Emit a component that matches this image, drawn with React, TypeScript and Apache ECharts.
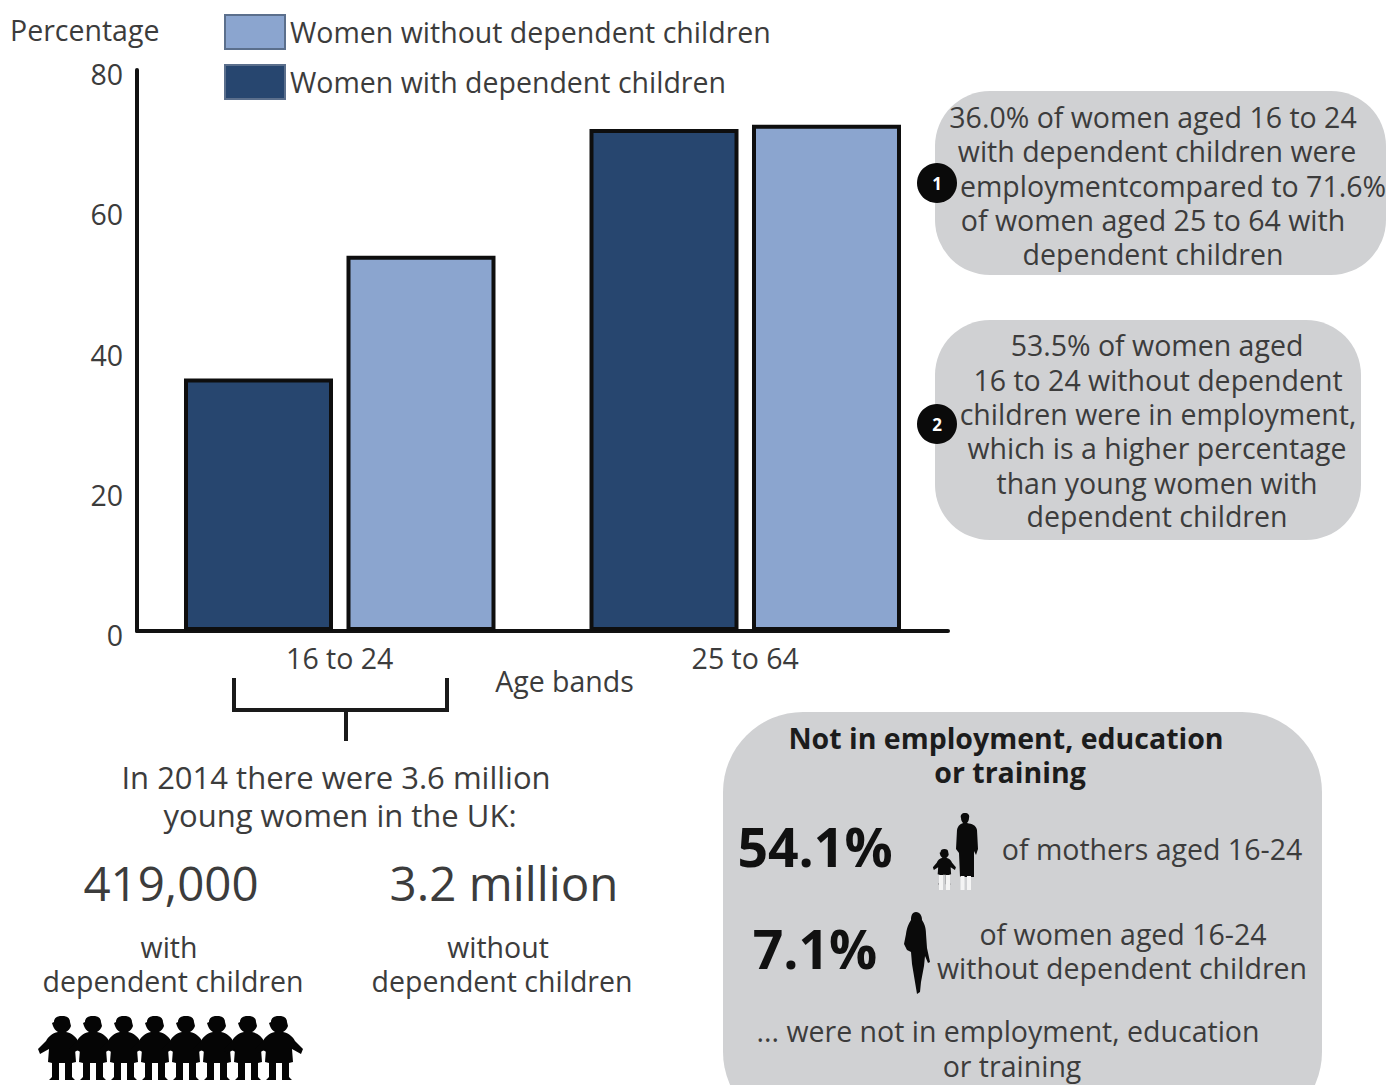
import React, { useEffect, useRef } from "react";
import * as echarts from "echarts";

const ageBands = ["16 to 24", "25 to 64"];
const withChildren = [36.0, 71.6];
const withoutChildren = [53.5, 72.2];
const yTicks = { min: 0, max: 80, interval: 20 };
const seriesNames = ["Women with dependent children", "Women without dependent children"];
const callout1 = [
  "36.0% of women aged 16 to 24",
  "with dependent children were",
  "employmentcompared to 71.6%",
  "of women aged 25 to 64 with",
  "dependent children",
];
const callout2 = [
  "53.5% of women aged",
  "16 to 24 without dependent",
  "children were in employment,",
  "which is a higher percentage",
  "than young women with",
  "dependent children",
];
const youngWomen = ["In 2014 there were 3.6 million", "young women in the UK:"];
const counts = ["419,000", "3.2 million"];
const countLabels = [["with", "dependent children"], ["without", "dependent children"]];
const neetTitle = ["Not in employment, education", "or training"];
const neetValues = ["54.1%", "7.1%"];
const neetMothers = "of mothers aged 16-24";
const neetWomen = ["of women aged 16-24", "without dependent children"];
const neetFooter = ["... were not in employment, education", "or training"];
const childIconCount = 8;

const FONT = '"Open Sans", sans-serif';
const INK = "#3c3c3c";
const DARK = "#27466f";
const LIGHT = "#8ba5cf";
const BUBBLE = "#d0d1d3";
const BODY = 28.5;

const childPath =
  "M30 0 C35 0 38 2 38 6 L39 10 C38 13 36 15 34 16 C40 17 44 21 46 25 L54 33 L52 38 L43 33 L44 46 L40 47 L40 61 L43 64 L33 64 L33 47 L27 47 L27 64 L17 64 L20 61 L20 47 L16 46 L17 33 L8 38 L6 33 L14 25 C16 21 20 17 26 16 C24 15 22 13 21 10 L20 7 L22 6 C22 2 25 0 30 0 Z";
const motherPath =
  "M12 0 C15 0 17 2 16 5 C16 7 15 9 14 10 C19 11 23 12 24 17 L25 36 L23 42 L21 38 L21 64 L7 64 L6 40 L3 36 L4 17 C5 12 8 11 10 10 C9 9 8 7 8 5 C7 2 9 0 12 0 Z";
const womanPath =
  "M12 0 C16 0 18 4 18 8 C20 11 22 15 22 22 L23 36 L26 50 L24 51 L21 44 L20 54 L17 70 L16 80 L13 82 L11 70 L8 52 L7 40 L3 38 L0 32 L2 22 C3 15 5 11 7 8 C7 4 8 0 12 0 Z";

echarts.graphic.registerShape("childIcon", echarts.graphic.extendPath(childPath as any, {}) as any);
echarts.graphic.registerShape("motherIcon", echarts.graphic.extendPath(motherPath as any, {}) as any);
echarts.graphic.registerShape("womanIcon", echarts.graphic.extendPath(womanPath as any, {}) as any);

const txt = (text: string, x: number, y: number, fontSize = BODY, fontWeight: any = 400, fill = INK, z = 5) => ({
  type: "text",
  x,
  y,
  z,
  style: { text, fontSize, fontWeight, fontFamily: FONT, fill, align: "center", verticalAlign: "middle" },
});
const bubble = (x: number, y: number, width: number, height: number, r: number) => ({
  type: "rect",
  z: 1,
  shape: { x, y, width, height, r },
  style: { fill: BUBBLE },
});

function buildGraphics() {
  const els: any[] = [];
  els.push(bubble(935, 91, 451, 184, 55));
  els.push(bubble(935, 320, 426, 220, 55));
  els.push(bubble(723, 712, 599, 420, 80));

  const c1x = [1153, 1157, 1173, 1153, 1153];
  const c1y = [117, 151, 186, 220, 254];
  callout1.forEach((l, i) => els.push(txt(l, c1x[i], c1y[i])));
  const c2x = [1157, 1158, 1158, 1157, 1157, 1157];
  const c2y = [345, 380, 414, 448, 483, 516];
  callout2.forEach((l, i) => els.push(txt(l, c2x[i], c2y[i])));

  [[937, 183, "1"], [937, 424, "2"]].forEach(([x, y, t]: any) => {
    els.push({ type: "circle", z: 6, shape: { cx: x, cy: y, r: 20 }, style: { fill: "#0a0a0a" } });
    els.push(txt(t, x, y, 17, 700, "#ffffff", 7));
  });

  els.push({
    type: "polyline",
    z: 3,
    shape: { points: [[234, 678], [234, 710], [447, 710], [447, 678]] },
    style: { fill: "none", stroke: "#1a1a1a", lineWidth: 4 },
  });
  els.push({
    type: "line",
    z: 3,
    shape: { x1: 346, y1: 708, x2: 346, y2: 741 },
    style: { stroke: "#1a1a1a", lineWidth: 4 },
  });

  els.push(txt(youngWomen[0], 336, 777, 31));
  els.push(txt(youngWomen[1], 340, 815, 31));
  els.push(txt(counts[0], 171, 882, 47.5));
  els.push(txt(counts[1], 504, 882, 47.5));
  els.push(txt(countLabels[0][0], 169, 947));
  els.push(txt(countLabels[0][1], 173, 981));
  els.push(txt(countLabels[1][0], 498, 947));
  els.push(txt(countLabels[1][1], 502, 981));

  for (let i = 0; i < childIconCount; i++) {
    els.push({
      type: "childIcon",
      z: 4,
      x: 32 + i * 31,
      y: 1016,
      style: { fill: "#050505" },
    });
  }

  els.push(txt(neetTitle[0], 1006, 738, 28.5, 700, "#1c1c1c"));
  els.push(txt(neetTitle[1], 1010, 772, 28.5, 700, "#1c1c1c"));
  els.push(txt(neetValues[0], 815, 846, 53.5, 700, "#111111"));
  els.push(txt(neetValues[1], 815, 948, 53.5, 700, "#111111"));
  els.push(txt(neetMothers, 1152, 849));
  els.push(txt(neetWomen[0], 1123, 934));
  els.push(txt(neetWomen[1], 1122, 968));
  els.push(txt(neetFooter[0], 1008, 1031));
  els.push(txt(neetFooter[1], 1012, 1066));

  // Mother and child icon
  els.push({ type: "motherIcon", z: 4, x: 953, y: 813, style: { fill: "#0a0a0a" } });
  els.push({ type: "childIcon", z: 4, x: 930, y: 849, scaleX: 0.48, scaleY: 0.55, style: { fill: "#0a0a0a" } });
  [[962.5, 876, 962.5, 890], [969, 876, 969, 890], [941, 875, 941, 890], [948, 875, 948, 890]].forEach(([x1, y1, x2, y2]) =>
    els.push({ type: "line", z: 5, shape: { x1, y1, x2, y2 }, style: { stroke: "#f4f4f4", lineWidth: 4 } })
  );
  els.push({ type: "womanIcon", z: 4, x: 904, y: 912, style: { fill: "#0a0a0a" } });
  return els;
}

export default function App() {
  const ref = useRef<HTMLDivElement>(null);
  useEffect(() => {
    const chart = echarts.init(ref.current!, null, { renderer: "svg" });
    const axisLabel = { color: INK, fontSize: BODY, fontFamily: FONT };
    chart.setOption({
      animation: false,
      backgroundColor: "#ffffff",
      grid: { left: 137, right: 441, top: 70, bottom: 454, containLabel: false },
      legend: {
        orient: "vertical",
        left: 224,
        top: 14,
        padding: 0,
        itemWidth: 60,
        itemHeight: 34,
        itemGap: 14,
        data: [
          { name: seriesNames[1], icon: "rect" },
          { name: seriesNames[0], icon: "rect" },
        ],
        textStyle: { color: INK, fontSize: BODY, fontFamily: FONT, lineHeight: 34 },
        itemStyle: { borderWidth: 2, borderColor: "#5b6f8c" },
        selectedMode: false,
      },
      xAxis: {
        type: "category",
        data: ageBands,
        axisLine: { lineStyle: { color: "#111111", width: 4 } },
        axisTick: { show: false },
        axisLabel: { ...axisLabel, margin: 12 },
        name: "Age bands",
        nameLocation: "middle",
        nameGap: 35,
        nameMoveOverlap: false,
        nameTextStyle: { color: INK, fontSize: BODY, fontFamily: FONT, padding: [0, 0, 0, 44] },
      },
      yAxis: {
        type: "value",
        ...yTicks,
        axisLine: { show: true, lineStyle: { color: "#111111", width: 4 } },
        axisTick: { show: false },
        splitLine: { show: false },
        axisLabel: { ...axisLabel, margin: 14, verticalAlign: "top", lineHeight: 8 },
        name: "Percentage",
        nameLocation: "end",
        nameGap: 26,
        nameTextStyle: { color: INK, fontSize: BODY, fontFamily: FONT, align: "left", padding: [0, 0, 0, -127] },
      },
      series: [
        {
          name: seriesNames[0],
          type: "bar",
          data: withChildren,
          barWidth: 149,
          barGap: "9.06%",
          itemStyle: { color: DARK, borderColor: "#0e0e0e", borderWidth: 4 },
        },
        {
          name: seriesNames[1],
          type: "bar",
          data: withoutChildren,
          barWidth: 149,
          barGap: "9.06%",
          itemStyle: { color: LIGHT, borderColor: "#0e0e0e", borderWidth: 4 },
        },
      ],
      graphic: { elements: buildGraphics() },
    });
    return () => chart.dispose();
  }, []);
  return <div ref={ref} style={{ position: "absolute", left: 0, top: 0, width: 1389, height: 1085, overflow: "hidden" }} />;
}
